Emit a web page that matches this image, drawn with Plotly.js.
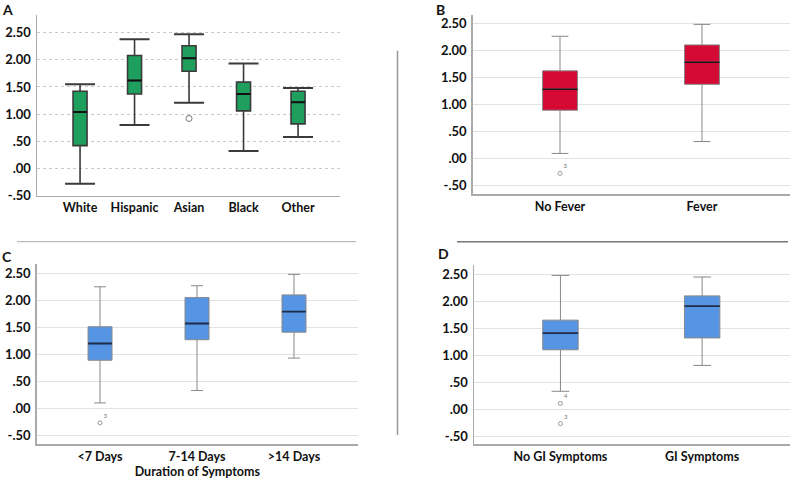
<!DOCTYPE html>
<html>
<head>
<meta charset="utf-8">
<script src="https://cdn.plot.ly/plotly-3.0.1.min.js"></script>
<style>html,body{margin:0;padding:0;background:#fff}#chart{width:790px;height:483px}</style>
</head>
<body>
<div id="chart"></div>
<script>
// ---------- DATA ----------
const yTickVals = [-0.5, 0, 0.5, 1, 1.5, 2, 2.5];
const yTickText = ['-.50', '.00', '.50', '1.00', '1.50', '2.00', '2.50'];

const catA = ['White', 'Hispanic', 'Asian', 'Black', 'Other'];
const lowA = [-0.28, 0.80, 1.21, 0.32, 0.58];
const q1A = [0.42, 1.37, 1.79, 1.06, 0.82];
const medA = [1.04, 1.62, 2.03, 1.37, 1.22];
const q3A = [1.42, 2.08, 2.26, 1.59, 1.42];
const highA = [1.55, 2.38, 2.47, 1.93, 1.48];
const outCatA = ['Asian'];
const outValA = [0.92];

const catB = ['No Fever', 'Fever'];
const lowB = [0.09, 0.31];
const q1B = [0.89, 1.37];
const medB = [1.28, 1.78];
const q3B = [1.62, 2.10];
const highB = [2.26, 2.48];
const outCatB = ['No Fever'];
const outValB = [-0.28];
const outLabB = ['3'];

const catC = ['&lt;7 Days', '7-14 Days', '&gt;14 Days'];
const lowC = [0.10, 0.33, 0.93];
const q1C = [0.89, 1.27, 1.41];
const medC = [1.20, 1.57, 1.79];
const q3C = [1.51, 2.05, 2.10];
const highC = [2.25, 2.27, 2.48];
const outCatC = ['&lt;7 Days'];
const outValC = [-0.27];
const outLabC = ['3'];
const titleC = 'Duration of Symptoms';

const catD = ['No GI Symptoms', 'GI Symptoms'];
const lowD = [0.33, 0.81];
const q1D = [1.10, 1.32];
const medD = [1.41, 1.91];
const q3D = [1.65, 2.10];
const highD = [2.48, 2.45];
const outCatD = ['No GI Symptoms', 'No GI Symptoms'];
const outValD = [0.105, -0.27];
const outLabD = ['4', '3'];

// ---------- LAYOUT HELPERS ----------
const W = 790, H = 483;
const px = v => v / W;
const py = v => 1 - v / H;
const FONT = 'Lato, "Open Sans", sans-serif';

function idx(cats) { return cats.map((c, i) => i); }

function boxTrace(cats, low, q1, med, q3, high, ax, fill, lineColor, lineW, width, ww) {
  return {
    type: 'box', xaxis: 'x' + ax, yaxis: 'y' + ax,
    x: idx(cats), q1: q1, median: med, q3: q3, lowerfence: low, upperfence: high,
    width: width, whiskerwidth: ww, boxpoints: false,
    fillcolor: fill, line: { color: lineColor, width: lineW },
    showlegend: false, hoverinfo: 'skip'
  };
}
function medTrace(cats, med, ax, half, color, w) {
  const xs = [], ys = [];
  cats.forEach((c, i) => { xs.push(i - half, i + half, null); ys.push(med[i], med[i], null); });
  return { type: 'scatter', mode: 'lines', xaxis: 'x' + ax, yaxis: 'y' + ax, x: xs, y: ys,
    line: { color: color, width: w }, showlegend: false, hoverinfo: 'skip' };
}
function capTrace(cats, low, high, ax, half, color, w) {
  const xs = [], ys = [];
  cats.forEach((c, i) => {
    xs.push(i - half, i + half, null, i - half, i + half, null);
    ys.push(high[i], high[i], null, low[i], low[i], null);
  });
  return { type: 'scatter', mode: 'lines', xaxis: 'x' + ax, yaxis: 'y' + ax, x: xs, y: ys,
    line: { color: color, width: w }, showlegend: false, hoverinfo: 'skip' };
}
function outTrace(cats, outCat, outVal, labels, ax, size, lineColor) {
  return { type: 'scatter', mode: labels ? 'markers+text' : 'markers', xaxis: 'x' + ax, yaxis: 'y' + ax,
    x: outCat.map(c => cats.indexOf(c)), y: outVal,
    text: labels || undefined, textposition: 'top right',
    textfont: { family: FONT, size: 6, color: '#777' },
    marker: { symbol: 'circle-open', size: size, color: lineColor, line: { color: lineColor, width: 1 } },
    showlegend: false, hoverinfo: 'skip', cliponaxis: false };
}

const traces = [
  boxTrace(catA, lowA, q1A, medA, q3A, highA, '', '#1f9f5d', '#3a3a3a', 1.6, 0.257, 0),
  medTrace(catA, medA, '', 0.128, '#111', 2),
  capTrace(catA, lowA, highA, '', 0.275, '#3a3a3a', 2),
  outTrace(catA, outCatA, outValA, null, '', 6, '#777'),

  boxTrace(catB, lowB, q1B, medB, q3B, highB, '2', '#d40a35', '#888', 1, 0.246, 0.48),
  medTrace(catB, medB, '2', 0.123, '#1a1a1a', 1.6),
  outTrace(catB, outCatB, outValB, outLabB, '2', 4, '#999'),

  boxTrace(catC, lowC, q1C, medC, q3C, highC, '3', '#5595e3', '#888', 1, 0.247, 0.5),
  medTrace(catC, medC, '3', 0.1235, '#1f2d4a', 1.8),
  outTrace(catC, outCatC, outValC, outLabC, '3', 4, '#999'),

  boxTrace(catD, lowD, q1D, medD, q3D, highD, '4', '#5595e3', '#888', 1, 0.25, 0.5),
  medTrace(catD, medD, '4', 0.125, '#1f2d4a', 1.8),
  outTrace(catD, outCatD, outValD, outLabD, '4', 4, '#999')
];

function xAx(cats, x0, x1, range, title) {
  const a = {
    domain: [px(x0), px(x1)], range: range, tickvals: idx(cats), ticktext: cats,
    showgrid: false, zeroline: false, showline: true, linecolor: '#aaa', linewidth: 1.5,
    ticks: '', tickfont: { family: FONT, size: 12.5, color: '#111', weight: 700 }, fixedrange: true
  };
  if (title) a.title = { text: title, font: { family: FONT, size: 12.5, color: '#111', weight: 700 }, standoff: 3 };
  return a;
}
function yAx(anchor, y0, y1, range, gridColor, gridDash) {
  return {
    domain: [py(y1), py(y0)], range: range, anchor: anchor,
    tickvals: yTickVals, ticktext: yTickText,
    showgrid: true, gridcolor: gridColor, griddash: gridDash, gridwidth: 1,
    zeroline: false, showline: true, linecolor: '#aaa', linewidth: 1.5,
    ticks: '', ticklabelstandoff: 2,
    tickfont: { family: FONT, size: 13, color: '#111', weight: 700 }, fixedrange: true
  };
}

const layout = {
  width: W, height: H, margin: { l: 0, r: 0, t: 0, b: 0 },
  paper_bgcolor: '#fff', plot_bgcolor: 'rgba(0,0,0,0)', showlegend: false,
  xaxis: Object.assign(xAx(catA, 37, 340, [-0.79, 4.77]), { anchor: 'y' }),
  yaxis: yAx('x', 15, 195.6, [-0.5, 2.825], '#c8c8c8', 'dot'),
  xaxis2: Object.assign(xAx(catB, 472.7, 790, [-0.615, 1.62]), { anchor: 'y2' }),
  yaxis2: yAx('x2', 15, 194.3, [-0.667, 2.654], '#e2e2e2', 'solid'),
  xaxis3: Object.assign(xAx(catC, 36.7, 358, [-0.653, 2.66], titleC), { anchor: 'y3' }),
  yaxis3: yAx('x3', 264, 444, [-0.661, 2.672], '#e2e2e2', 'solid'),
  xaxis4: Object.assign(xAx(catD, 474, 790, [-0.61, 1.62]), { anchor: 'y4' }),
  yaxis4: yAx('x4', 265, 444, [-0.648, 2.673], '#e2e2e2', 'solid'),
  annotations: [
    ['A', 1, 9], ['B', 435, 9], ['C', 1, 256], ['D', 437, 254]
  ].map(([t, x, y]) => ({
    text: t, xref: 'paper', yref: 'paper', x: px(x), y: py(y), xanchor: 'left', yanchor: 'middle',
    showarrow: false, borderpad: 0, font: { family: FONT, size: 14, color: '#111', weight: 700 }
  })),
  shapes: [
    { type: 'line', xref: 'paper', yref: 'paper', x0: px(397.5), x1: px(397.5), y0: py(50.7), y1: py(435), line: { color: '#999', width: 1.5 } },
    { type: 'line', xref: 'paper', yref: 'paper', x0: px(17), x1: px(356), y0: py(241.7), y1: py(241.7), line: { color: '#aaa', width: 1 } },
    { type: 'line', xref: 'paper', yref: 'paper', x0: px(457), x1: px(788), y0: py(241.7), y1: py(241.7), line: { color: '#777', width: 1.5 } }
  ]
};

Plotly.newPlot('chart', traces, layout, { displayModeBar: false, staticPlot: true });
</script>
</body>
</html>
